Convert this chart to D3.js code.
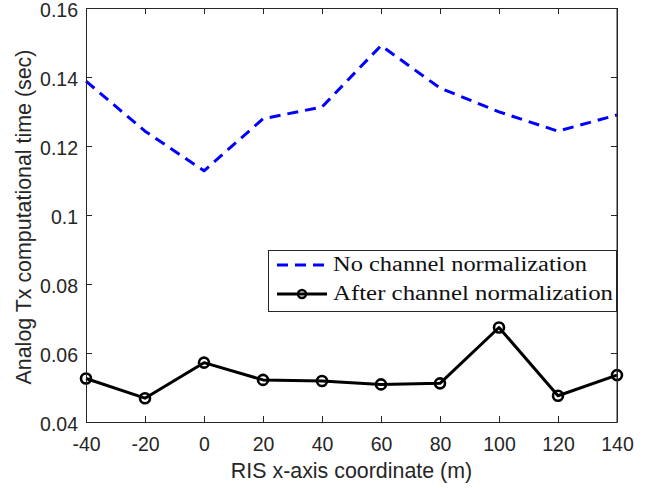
<!DOCTYPE html>
<html>
<head>
<meta charset="utf-8">
<script src="https://cdn.jsdelivr.net/npm/d3@7"></script>
<style>
html,body{margin:0;padding:0;background:#fff;}
svg{display:block;}
</style>
</head>
<body>
<svg id="chart" width="654" height="488"></svg>
<script>
const xValues = [-40, -20, 0, 20, 40, 60, 80, 100, 120, 140];
const noNorm = [0.1388, 0.1243, 0.1128, 0.1279, 0.1313, 0.1491, 0.1368, 0.1299, 0.1243, 0.1290];
const afterNorm = [0.0526, 0.0469, 0.0572, 0.0522, 0.0519, 0.0509, 0.0512, 0.0674, 0.0476, 0.0536];
const xTicks = [-40, -20, 0, 20, 40, 60, 80, 100, 120, 140];
const yTicks = [0.04, 0.06, 0.08, 0.1, 0.12, 0.14, 0.16];
const seriesNames = ["No channel normalization", "After channel normalization"];
const xLabel = "RIS x-axis coordinate (m)";
const yLabel = "Analog Tx computational time (sec)";

const svg = d3.select("#chart");
const L = 86, R = 617, T = 8, B = 422;
const x = d3.scaleLinear().domain([-40, 140]).range([L, R]);
const y = d3.scaleLinear().domain([0.04, 0.16]).range([B, T]);
const axisColor = "#262626";
const tickFont = "Liberation Sans, Arial, sans-serif";

// Data lines
const line = d3.line().x((d, i) => x(xValues[i])).y(d => y(d));
svg.append("path").datum(noNorm).attr("d", line)
  .attr("fill", "none").attr("stroke", "#0000ff").attr("stroke-width", 3)
  .attr("stroke-dasharray", "11,7").attr("stroke-linejoin", "round");
svg.append("path").datum(afterNorm).attr("d", line)
  .attr("fill", "none").attr("stroke", "#000").attr("stroke-width", 3)
  .attr("stroke-linejoin", "round");
svg.selectAll("circle.m").data(afterNorm).enter().append("circle")
  .attr("class", "m")
  .attr("cx", (d, i) => x(xValues[i])).attr("cy", d => y(d)).attr("r", 5)
  .attr("fill", "none").attr("stroke", "#000").attr("stroke-width", 2.6);

// Axes
const fmtY = d => (d === 0.1 ? "0.1" : d3.format(".2f")(d));
const fmtX = d => String(d);
function styleAxis(g) {
  g.selectAll("path").attr("stroke", axisColor).attr("stroke-width", 1);
  g.selectAll("line").attr("stroke", axisColor).attr("stroke-width", 1);
  g.selectAll("text").attr("fill", axisColor).attr("font-family", tickFont).attr("font-size", 19.5);
}
svg.append("g").attr("transform", `translate(0,${B})`)
  .call(d3.axisBottom(x).tickValues(xTicks).tickSizeInner(-6).tickSizeOuter(0).tickPadding(15).tickFormat(fmtX))
  .call(styleAxis);
svg.append("g").attr("transform", `translate(0,${T})`)
  .call(d3.axisTop(x).tickValues(xTicks).tickSizeInner(-6).tickSizeOuter(0).tickFormat(""))
  .call(styleAxis);
svg.append("g").attr("transform", `translate(${L},0)`)
  .call(d3.axisLeft(y).tickValues(yTicks).tickSizeInner(-6).tickSizeOuter(0).tickPadding(8).tickFormat(fmtY))
  .call(styleAxis)
  .selectAll("text").attr("dy", "0.45em");
svg.append("g").attr("transform", `translate(${R},0)`)
  .call(d3.axisRight(y).tickValues(yTicks).tickSizeInner(-6).tickSizeOuter(0).tickFormat(""))
  .call(styleAxis);

// Axis labels
svg.append("text").attr("x", (L + R) / 2).attr("y", 478).attr("text-anchor", "middle")
  .attr("font-family", tickFont).attr("font-size", 21.4).attr("fill", axisColor).text(xLabel);
svg.append("text").attr("transform", `translate(31,217) rotate(-90)`)
  .attr("text-anchor", "middle")
  .attr("font-family", tickFont).attr("font-size", 21.4).attr("fill", axisColor).text(yLabel);

// Legend
const lg = svg.append("g");
lg.append("rect").attr("x", 268.5).attr("y", 250.5).attr("width", 348).attr("height", 61)
  .attr("fill", "#fff").attr("stroke", axisColor).attr("stroke-width", 1);
const ly = [265, 294];
lg.append("line").attr("x1", 277).attr("x2", 327).attr("y1", ly[0]).attr("y2", ly[0])
  .attr("stroke", "#0000ff").attr("stroke-width", 3).attr("stroke-dasharray", "11,7");
lg.append("line").attr("x1", 277).attr("x2", 327).attr("y1", ly[1]).attr("y2", ly[1])
  .attr("stroke", "#000").attr("stroke-width", 3);
lg.append("circle").attr("cx", 302).attr("cy", ly[1]).attr("r", 4)
  .attr("fill", "none").attr("stroke", "#000").attr("stroke-width", 2.4);
lg.selectAll("text.lt").data(seriesNames).enter().append("text")
  .attr("class", "lt")
  .attr("x", 333).attr("y", (d, i) => ly[i] + 6)
  .attr("font-family", "Liberation Serif, Times New Roman, serif").attr("font-size", 20)
  .attr("fill", "#111")
  .attr("textLength", (d, i) => i === 0 ? 254 : 280)
  .attr("lengthAdjust", "spacingAndGlyphs")
  .text(d => d);
// Re-draw right border over legend
svg.append("line").attr("x1", R).attr("x2", R).attr("y1", T).attr("y2", B)
  .attr("stroke", axisColor).attr("stroke-width", 1);
</script>
</body>
</html>
